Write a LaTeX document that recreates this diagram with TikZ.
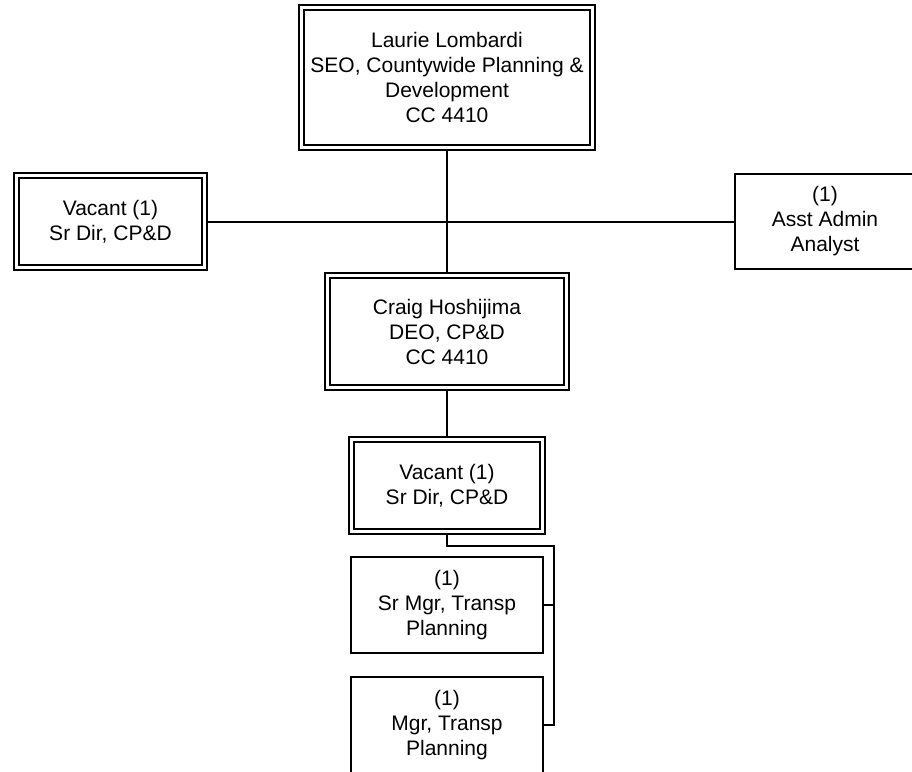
\documentclass[tikz,border=0pt]{standalone}
\usepackage{fontspec}
\setmainfont{Liberation Sans}
\tikzset{
  box/.style={draw, line width=2pt, rectangle, inner sep=0pt, outer sep=0pt,
    align=center, font=\fontsize{21}{25}\selectfont},
  innerline/.style={line width=1.3pt},
  link/.style={line width=2pt}
}
\begin{document}
\begin{tikzpicture}[x=1pt,y=-1pt]
\useasboundingbox (0,0) rectangle (912,771);
\clip (0,0) rectangle (912,771);
\fill[white] (0,0) rectangle (912,771);
\node[box, minimum width=296pt, minimum height=145pt] (top) at (447,77.5)
  {Laurie Lombardi\\SEO, Countywide Planning \&\\Development\\CC 4410};
\node[box, minimum width=193pt, minimum height=97pt] (left) at (110.5,221.5)
  {Vacant (1)\\Sr Dir, CP\&D};
\node[box, minimum width=180pt, minimum height=95pt] (right) at (825,221.5)
  {(1)\\Asst Admin\\Analyst};
\node[box, minimum width=244pt, minimum height=117pt] (craig) at (447,331.5)
  {Craig Hoshijima\\DEO, CP\&D\\CC 4410};
\node[box, minimum width=196pt, minimum height=97pt] (vac2) at (447,485.5)
  {Vacant (1)\\Sr Dir, CP\&D};
\node[box, minimum width=192pt, minimum height=96pt] (srmgr) at (447,605)
  {(1)\\Sr Mgr, Transp\\Planning};
\node[box, minimum width=192pt, minimum height=96pt] (mgr) at (447,725)
  {(1)\\Mgr, Transp\\Planning};
\foreach \n in {top,left,craig,vac2}
  \draw[innerline] ([xshift=5pt,yshift=-5pt]\n.north west) rectangle ([xshift=-5pt,yshift=5pt]\n.south east);
\draw[link] (top.south) -- (craig.north);
\draw[link] (left.east) -- (right.west);
\draw[link] (craig.south) -- (vac2.north);
\coordinate (bus) at (554,546);
\draw[link] (vac2.south) |- (bus) -- (bus |- mgr.east) -- (mgr.east);
\draw[link] (bus |- srmgr.east) -- (srmgr.east);
\end{tikzpicture}
\end{document}
